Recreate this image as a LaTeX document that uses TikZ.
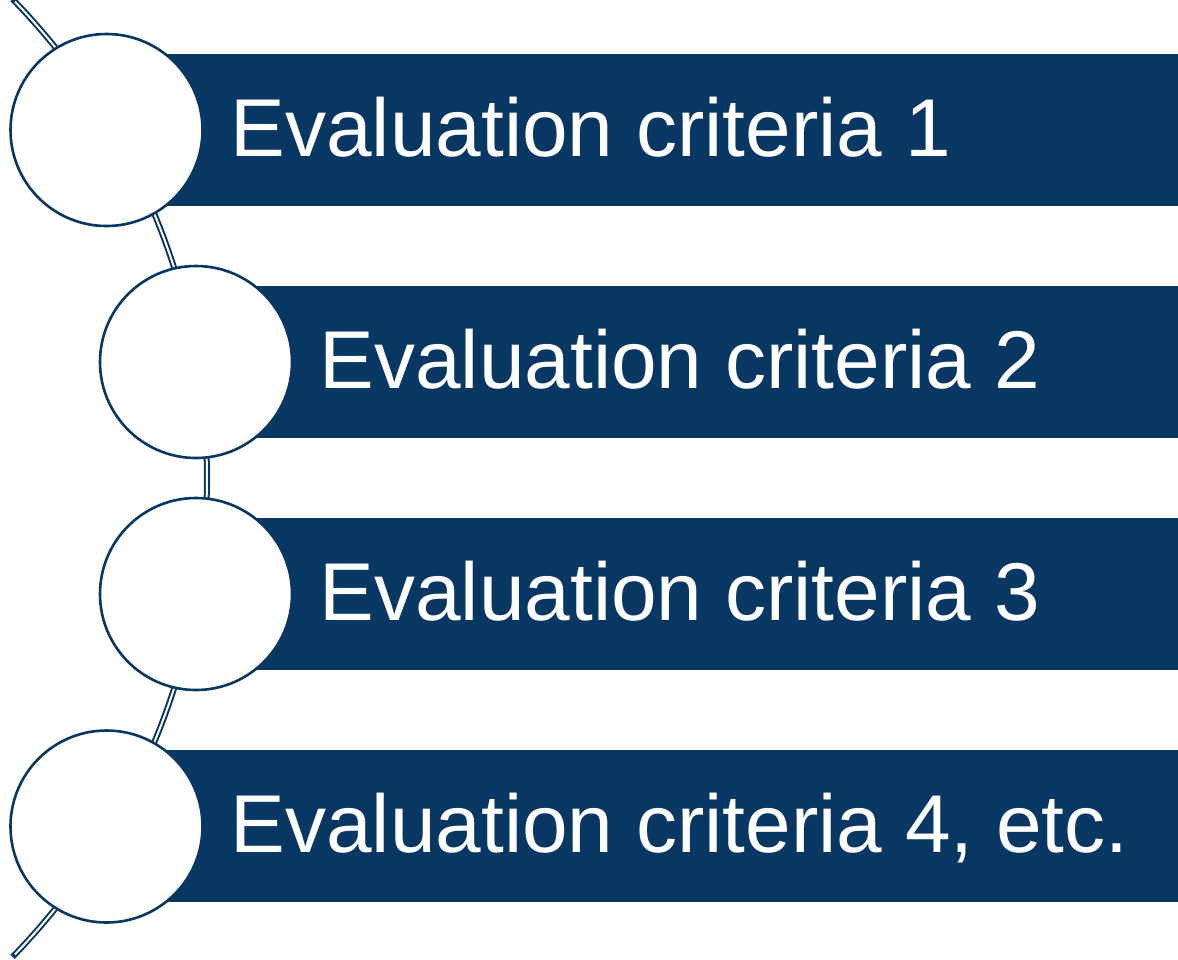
\documentclass[tikz,border=0pt]{standalone}
\usepackage{fontspec}
\setmainfont{Liberation Sans}
\definecolor{navy}{RGB}{8,55,99}
\begin{document}
\begin{tikzpicture}[x=1pt,y=-1pt,
  bar/.style={fill=navy,draw=none},
  bubble/.style={circle,draw=navy,line width=2.6pt,fill=white,minimum size=192pt,inner sep=0pt},
  label/.style={anchor=base west,inner sep=0pt,text=white,font=\fontsize{82}{82}\selectfont}]
\useasboundingbox (0,0) rectangle (1178,959);
% arc connector (behind)
\coordinate (ac) at (-480,478);
\draw[navy,line width=6pt] (ac) ++(-44.2:687) arc[start angle=-44.2,end angle=44.2,radius=687];
\draw[white,line width=2pt] (ac) ++(-43.9:687) arc[start angle=-43.9,end angle=43.9,radius=687];
% bars
\fill[bar] (107,54) rectangle (1178,206);
\fill[bar] (196,286) rectangle (1178,438);
\fill[bar] (196,518) rectangle (1178,670);
\fill[bar] (107,750) rectangle (1178,902);
% circles
\node[bubble] (c1) at (106.5,130) {};
\node[bubble] (c2) at (196,362) {};
\node[bubble] (c3) at (196,594) {};
\node[bubble] (c4) at (106.5,826.5) {};
% labels
\node[label] (t1) at (230.5,156.5) {Evaluation criteria 1};
\node[label] (t2) at (319.5,388.5) {Evaluation criteria 2};
\node[label] (t3) at (319.5,620.5) {Evaluation criteria 3};
\node[label] (t4) at (230.5,852.5) {Evaluation criteria 4, etc.};
\end{tikzpicture}
\end{document}
